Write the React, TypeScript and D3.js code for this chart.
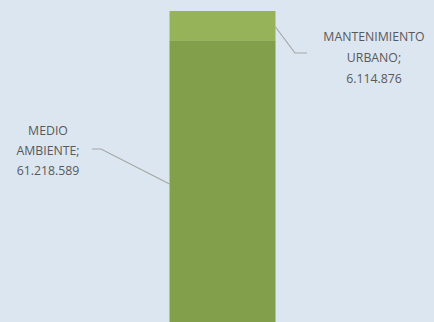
import React from "react";
import * as d3 from "d3";

const categories = ["MEDIO AMBIENTE", "MANTENIMIENTO URBANO"];
const values = [61218589, 6114876];
const labelLines = [["MEDIO", "AMBIENTE;"], ["MANTENIMIENTO", "URBANO;"]];
const colors = ["#82a04b", "#97b35a"];

const W = 434, H = 322;

export default function App() {
  const total = d3.sum(values);
  const y = d3.scaleLinear().domain([0, total]).range([341, 11]);
  const bx = 169.5, bw = 106;
  let acc = 0;
  const segs = values.map((v, i) => {
    const s = { y0: acc, y1: acc + v, cat: categories[i], color: colors[i] };
    acc += v;
    return s;
  });
  const fmt = (n: number) => d3.format(",")(n).replace(/,/g, ".");
  const font = "'Open Sans', sans-serif";
  const rightLines = [...labelLines[1], fmt(values[1])];
  const leftLines = [...labelLines[0], fmt(values[0])];
  return (
    <svg width={W} height={H} style={{ position: "absolute", left: 0, top: 0, display: "block" }}>
      <rect x={0} y={0} width={W} height={H} fill="#dce6f1" />
      {segs.map((s, i) => (
        <rect key={i} x={bx} y={y(s.y1)} width={bw} height={y(s.y0) - y(s.y1)} fill={s.color} />
      ))}
      <polyline points={`${bx + bw},27 295,53 307,53`} fill="none" stroke="#a6a6a6" strokeWidth={1.2} />
      <polyline points={`92,149 101,149 ${bx},184`} fill="none" stroke="#a6a6a6" strokeWidth={1.2} />
      <g fontFamily={font} fontSize={12.3} fill="#595959" textAnchor="middle">
        {rightLines.map((t, i) => (
          <text key={i} x={374} y={40.5 + i * 21}>{t}</text>
        ))}
        {leftLines.map((t, i) => (
          <text key={i} x={48} y={134.5 + i * 20}>{t}</text>
        ))}
      </g>
    </svg>
  );
}
